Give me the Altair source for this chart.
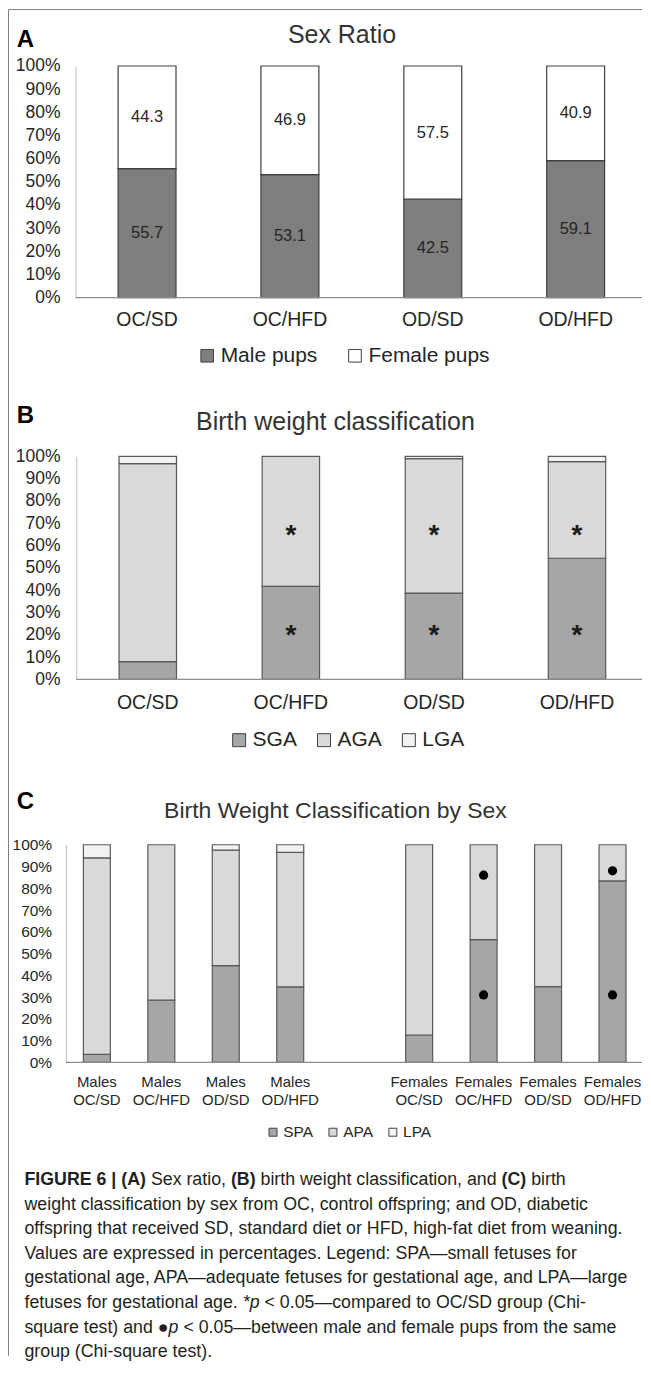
import altair as alt
import pandas as pd

# ---------------- data ----------------
groups = ["OC/SD", "OC/HFD", "OD/SD", "OD/HFD"]
sex_series = ["Male pups", "Female pups"]
male_pct = [55.7, 53.1, 42.5, 59.1]
female_pct = [44.3, 46.9, 57.5, 40.9]

bw_series = ["SGA", "AGA", "LGA"]
sga_pct = [7.9, 41.7, 38.7, 54.3]
aga_pct = [88.8, 58.3, 60.3, 43.3]
lga_pct = [3.3, 0.0, 1.0, 2.4]
star_groups = ["OC/HFD", "OD/SD", "OD/HFD"]
star_levels = [68, 23]

sex_groups = ["Males OC/SD", "Males OC/HFD", "Males OD/SD", "Males OD/HFD",
              "Females OC/SD", "Females OC/HFD", "Females OD/SD", "Females OD/HFD"]
pa_series = ["SPA", "APA", "LPA"]
spa_pct = [3.7, 28.6, 44.5, 34.7, 12.6, 56.4, 34.8, 83.4]
apa_pct = [90.3, 71.4, 53.0, 61.8, 87.4, 43.6, 65.2, 16.6]
lpa_pct = [6.0, 0.0, 2.5, 3.5, 0.0, 0.0, 0.0, 0.0]
dot_groups = ["Females OC/HFD", "Females OC/HFD", "Females OD/HFD", "Females OD/HFD"]
dot_levels = [86, 31, 88, 31]

caption_lines = [
    [("FIGURE 6 | (A)", "b"), (" Sex ratio, ", "r"), ("(B)", "b"),
     (" birth weight classification, and ", "r"), ("(C)", "b"), (" birth", "r")],
    [("weight classification by sex from OC, control offspring; and OD, diabetic", "r")],
    [("offspring that received SD, standard diet or HFD, high-fat diet from weaning.", "r")],
    [("Values are expressed in percentages. Legend: SPA\u2014small fetuses for", "r")],
    [("gestational age, APA\u2014adequate fetuses for gestational age, and LPA\u2014large", "r")],
    [("fetuses for gestational age. ", "r"), ("*p", "i"),
     (" < 0.05\u2014compared to OC/SD group (Chi-", "r")],
    [("square test) and ", "r"), ("\u25cf", "r"), ("p", "i"),
     (" < 0.05\u2014between male and female pups from the same", "r")],
    [("group (Chi-square test).", "r")],
]

# ---------------- styling helpers ----------------
FONT = "Liberation Sans"
TXT = "#262626"
W = 577
AXIS_LINE = "#8c8c8c"

# Arial / Liberation Sans advance widths (1/1000 em) for caption layout
AR = {}
for ch, w in zip(" !\"#$%&'()*+,-./", [278, 278, 355, 556, 556, 889, 667, 191, 333, 333, 389, 584, 278, 333, 278, 278]):
    AR[ch] = w
for ch in "0123456789":
    AR[ch] = 556
for ch, w in zip(":;<=>?", [278, 278, 584, 584, 584, 556]):
    AR[ch] = w
_up = [667, 667, 722, 722, 667, 611, 778, 722, 278, 500, 667, 556, 833, 722, 778, 667, 778, 722, 667, 611, 722, 667, 944, 667, 667, 611]
_lo = [556, 556, 500, 556, 556, 278, 556, 556, 222, 222, 500, 222, 833, 556, 556, 556, 556, 333, 500, 278, 556, 500, 722, 500, 500, 500]
for i, w in enumerate(_up):
    AR[chr(65 + i)] = w
for i, w in enumerate(_lo):
    AR[chr(97 + i)] = w
AR["\u2014"] = 1000
AR["\u25cf"] = 604
AR["|"] = 260
ARB = dict(AR)
ARB.update({"A": 722, "B": 722, "C": 722, "D": 722, "E": 667, "F": 611, "G": 778, "R": 722, "U": 722, "|": 280})


def text_width(s, bold, size):
    tab = ARB if bold else AR
    return sum(tab.get(c, 556) for c in s) * size / 1000.0


def stack_table(cats, names, cols):
    rows = []
    for ci, c in enumerate(cats):
        base = 0.0
        for k, (n, vals) in enumerate(zip(names, cols)):
            v = vals[ci]
            if v > 0:
                rows.append(dict(cat=c, series=n, pct=v, ord=k, mid=base + v / 2.0))
            base += v
    return pd.DataFrame(rows)


def y_axis(offset, size, pad):
    return alt.Axis(title=None, values=list(range(0, 101, 10)), labelExpr="datum.value + '%'",
                    grid=False, ticks=False, tickSize=0, domainColor="#bfbfbf", domainWidth=1,
                    labelFontSize=size, labelColor=TXT, labelPadding=pad, labelOverlap=False,
                    offset=offset, orient="left")


def x_axis(size, pad, offset=0, line_height=None, expr=None):
    kw = dict(title=None, labelAngle=0, grid=False, ticks=False, tickSize=0, domain=False,
              labelFontSize=size, labelColor=TXT, labelPadding=pad,
              labelOverlap=False, orient="bottom", offset=offset)
    if line_height:
        kw["labelLineHeight"] = line_height
    if expr:
        kw["labelExpr"] = expr
    return alt.Axis(**kw)


def note(txt, x, y, size, weight="normal", align="left", color="#000000"):
    return alt.Chart(pd.DataFrame({"t": [txt]})).mark_text(
        fontSize=size, fontWeight=weight, align=align, baseline="middle", color=color
    ).encode(text="t:N", x=alt.value(x), y=alt.value(y))


def base_line(x0, y):
    return alt.Chart(pd.DataFrame({"k": [0]})).mark_rule(color=AXIS_LINE, strokeWidth=1.2).encode(
        x=alt.value(x0), x2=alt.value(W), y=alt.value(y))


def legend(x, y, sym, size, off, colpad):
    return alt.Legend(title=None, orient="none", legendX=x, legendY=y, direction="horizontal",
                      symbolType="square", symbolSize=sym, symbolStrokeColor="#404040",
                      symbolStrokeWidth=1, labelFontSize=size, labelColor=TXT, labelOffset=off,
                      columnPadding=colpad, padding=0, symbolOffset=0)


one = pd.DataFrame({"k": [0]})

# ---------------- panel A ----------------
dfA = stack_table(groups, sex_series, [male_pct, female_pct])
xA = alt.X("cat:N", sort=groups,
           scale=alt.Scale(domain=groups, range=[9.7, W], paddingInner=0.5947, paddingOuter=0.2796,
                           align=0.532),
           axis=x_axis(19.5, 12.6))
yA_scale = alt.Scale(domain=[0, 100], range=[232, 0], nice=False)
yA_axis = y_axis(-9.7, 17.5, 15.7)
barsA = alt.Chart(dfA).mark_bar(stroke="#404040", strokeWidth=1.2).encode(
    x=xA,
    y=alt.Y("pct:Q", stack="zero", scale=yA_scale, axis=yA_axis),
    color=alt.Color("series:N", scale=alt.Scale(domain=sex_series, range=["#7f7f7f", "#ffffff"]),
                    legend=legend(131, 279.5, 160, 21, 3, 27)),
    order=alt.Order("ord:Q", sort="ascending"),
)
valsA = alt.Chart(dfA).mark_text(fontSize=16.5, color=TXT, baseline="middle").encode(
    x=xA, y=alt.Y("mid:Q", scale=yA_scale, axis=yA_axis), text=alt.Text("pct:Q", format=".1f"))
frame_left = alt.Chart(one).mark_rule(color="#808080", strokeWidth=1).encode(
    x=alt.value(-57.5), y=alt.value(-56.5), y2=alt.value(1292))
frame_top = alt.Chart(one).mark_rule(color="#808080", strokeWidth=1).encode(
    x=alt.value(-57.5), x2=alt.value(W), y=alt.value(-56.5))
panelA = alt.layer(
    barsA, base_line(9.7, 232), valsA, frame_left, frame_top,
    note("A", -49.3, -25.8, 24, "bold"),
    note("Sex Ratio", 276.5, -30.7, 25, align="center", color="#333333"),
).properties(width=W, height=232)

# ---------------- panel B ----------------
dfB = stack_table(groups, bw_series, [sga_pct, aga_pct, lga_pct])
xB = alt.X("cat:N", sort=groups,
           scale=alt.Scale(domain=groups, range=[10.3, W], paddingInner=0.5987, paddingOuter=0.2767,
                           align=0.5416),
           axis=x_axis(19.5, 14.6, offset=-6.7))
yB_scale = alt.Scale(domain=[0, 100], range=[223.3, 0], nice=False)
yB_axis = y_axis(-10.3, 17.5, 16.3)
barsB = alt.Chart(dfB).mark_bar(stroke="#595959", strokeWidth=1.2).encode(
    x=xB,
    y=alt.Y("pct:Q", stack="zero", scale=yB_scale, axis=yB_axis),
    color=alt.Color("series:N", scale=alt.Scale(domain=bw_series, range=["#a6a6a6", "#d9d9d9", "#f2f2f2"]),
                    legend=legend(163, 273.5, 169, 21, 3, 16)),
    order=alt.Order("ord:Q", sort="ascending"),
)
dfS = pd.DataFrame([(g, l) for g in star_groups for l in star_levels], columns=["cat", "lvl"])
starsB = alt.Chart(dfS).mark_text(text="*", fontSize=28, fontWeight="bold", dy=8, color="#1a1a1a",
                                  baseline="middle").encode(
    x=xB, y=alt.Y("lvl:Q", scale=yB_scale, axis=yB_axis))
panelB = alt.layer(
    barsB, base_line(10.3, 223.3), starsB,
    note("B", -49.3, -40.6, 24, "bold"),
    note("Birth weight classification", 270, -34, 25, align="center", color="#333333"),
).properties(width=W, height=230)

# ---------------- panel C ----------------
c_domain = sex_groups[:4] + [" "] + sex_groups[4:]
dfC = stack_table(sex_groups, pa_series, [spa_pct, apa_pct, lpa_pct])
xC = alt.X("cat:N", sort=c_domain,
           scale=alt.Scale(domain=c_domain, range=[0, W], paddingInner=0.5818, paddingOuter=0.2596,
                           align=0.522),
           axis=x_axis(15, 12.5, line_height=17.3, expr="split(datum.label, ' ')"))
yC_scale = alt.Scale(domain=[0, 100], range=[218, 0], nice=False)
yC_axis = y_axis(0, 15.5, 14.3)
barsC = alt.Chart(dfC).mark_bar(stroke="#595959", strokeWidth=1.2).encode(
    x=xC,
    y=alt.Y("pct:Q", stack="zero", scale=yC_scale, axis=yC_axis),
    color=alt.Color("series:N", scale=alt.Scale(domain=pa_series, range=["#a6a6a6", "#d9d9d9", "#f2f2f2"]),
                    legend=legend(199.7, 279.8, 64, 15.5, 2.5, 12)),
    order=alt.Order("ord:Q", sort="ascending"),
)
dfD = pd.DataFrame({"cat": dot_groups, "lvl": dot_levels})
dotsC = alt.Chart(dfD).mark_circle(size=85, color="#000000", opacity=1).encode(
    x=xC, y=alt.Y("lvl:Q", scale=yC_scale, axis=yC_axis))
panelC = alt.layer(
    barsC, base_line(0, 218), dotsC,
    note("C", -49.3, -43.1, 24, "bold"),
    note("Birth Weight Classification by Sex", 270, -34, 23, align="center", color="#333333"),
).properties(width=W, height=218)

# ---------------- caption ----------------
CAP_SIZE = 17.8
rows = []
for li, segs in enumerate(caption_lines):
    cx = -41.5
    for txt, sty in segs:
        bold = sty == "b"
        lead = len(txt) - len(txt.lstrip(" "))
        rows.append(dict(t=txt.strip(" "), x=cx + text_width(" " * lead, bold, CAP_SIZE),
                         y=-41 + 24.6 * li, s=sty))
        cx += text_width(txt, bold, CAP_SIZE)
dfCap = pd.DataFrame(rows)


def cap_layer(sty, weight, style):
    return alt.Chart(dfCap[dfCap.s == sty]).mark_text(
        fontSize=CAP_SIZE, fontWeight=weight, fontStyle=style, align="left", baseline="middle",
        color="#231f20"
    ).encode(text="t:N", x=alt.X("x:Q", scale=None, axis=None), y=alt.Y("y:Q", scale=None, axis=None))


caption = alt.layer(
    cap_layer("r", "normal", "normal"),
    cap_layer("b", "bold", "normal"),
    cap_layer("i", "normal", "italic"),
).properties(width=W, height=120)

chart = alt.vconcat(panelA, panelB, panelC, caption, spacing=159, bounds="flush").resolve_scale(
    color="independent"
).resolve_legend(color="independent").properties(
    padding=0
).configure(font=FONT).configure_view(strokeWidth=0)

chart.save("out.html", embed_options={"renderer": "svg", "actions": False})
